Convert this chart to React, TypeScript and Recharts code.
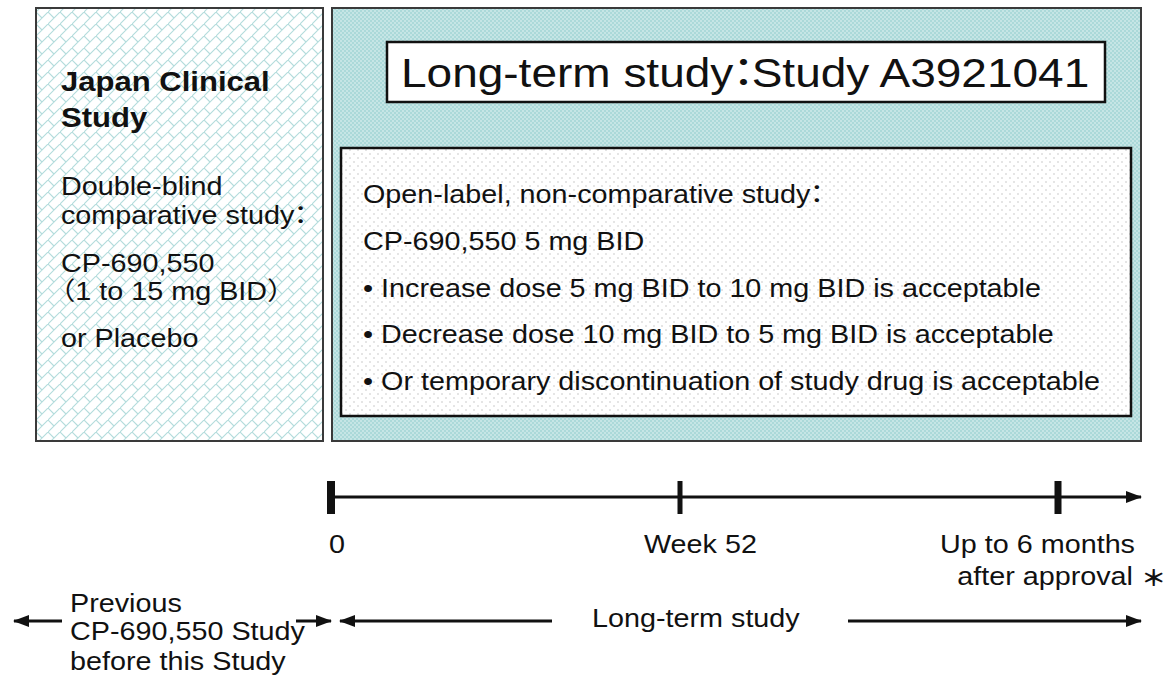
import {
  ComposedChart,
  XAxis,
  YAxis,
  Scatter,
  ReferenceArea,
  ReferenceLine,
} from "recharts";

// texts of the study design diagram
const japanTitle = ["Japan Clinical", "Study"];
const japanDesign = [
  "Double-blind",
  "comparative study：",
  "CP-690,550",
  "（1 to 15 mg BID）",
  "or Placebo",
];
const studyTitle = "Long-term study：Study A3921041";
const studyDesign = [
  "Open-label, non-comparative study：",
  "CP-690,550 5 mg BID",
  "• Increase dose 5 mg BID to 10 mg BID is acceptable",
  "• Decrease dose 10 mg BID to 5 mg BID is acceptable",
  "• Or temporary discontinuation of study drug is acceptable",
];
const milestones = ["0", "Week 52", "Up to 6 months", "after approval"];
const previousPeriod = ["Previous", "CP-690,550 Study", "before this Study"];
const longTermPeriod = "Long-term study";

// timeline positions (diagram units)
const milestoneX = [331, 680, 1058];

const W = 1169;
const H = 679;
const SX = 1.15;
const FONT = "'Liberation Sans', Arial, 'Noto Sans CJK JP', sans-serif";
const INK = "#111";

interface TextItem {
  x: number;
  y: number;
  text: string;
  size: number;
  bold?: boolean;
  anchor?: "start" | "middle" | "end";
}

const texts: TextItem[] = [
  ...japanTitle.map((t, i) => ({ x: 61, y: 91 + i * 36, text: t, size: 27, bold: true })),
  ...japanDesign.map((t, i) => ({
    x: 61,
    y: [195, 224, 272, 300, 347][i],
    text: t,
    size: 25,
  })),
  { x: 401, y: 87, text: studyTitle, size: 40 },
  ...studyDesign.map((t, i) => ({ x: 363, y: 203 + i * 46.8, text: t, size: 25 })),
  { x: 329, y: 553, text: milestones[0], size: 25 },
  { x: 644, y: 553, text: milestones[1], size: 25 },
  { x: 1135, y: 553, text: milestones[2], size: 25, anchor: "end" as const },
  { x: 1133, y: 585, text: milestones[3], size: 25, anchor: "end" as const },
  { x: 1141, y: 586, text: "＊", size: 22, bold: true },
  ...previousPeriod.map((t, i) => ({ x: 70, y: [612, 640, 670][i], text: t, size: 25 })),
  { x: 592, y: 627, text: longTermPeriod, size: 25 },
];

const ticks = milestoneX.map((x, i) => ({ x, y: 497, w: [8, 5, 7][i] }));

const segments = [
  [{ x: 330, y: 497 }, { x: 1141, y: 497 }],
  [{ x: 62, y: 621 }, { x: 14, y: 621 }],
  [{ x: 296, y: 621 }, { x: 331, y: 621 }],
  [{ x: 552, y: 621 }, { x: 340, y: 621 }],
  [{ x: 848, y: 621 }, { x: 1141, y: 621 }],
];

// full-width punctuation is drawn tighter, as in the slide
const tighten = (text: string, size: number) => {
  const parts = text.split(/([：（）])/).filter((s) => s !== "");
  return parts.map((s, i) => {
    let dx = 0;
    if (s === "：") dx = -0.28 * size;
    else if (s === "（") dx = -0.5 * size;
    else if (i > 0 && parts[i - 1] === "：") dx = -0.32 * size;
    return (
      <tspan key={i} dx={dx || undefined}>
        {s}
      </tspan>
    );
  });
};

// eslint-disable-next-line @typescript-eslint/no-explicit-any
const TextMark = (p: any) => {
  const d: TextItem = p.payload;
  return (
    <text
      transform={`translate(${p.cx},${p.cy}) scale(${SX},1)`}
      textAnchor={d.anchor || "start"}
      fontSize={d.size}
      fontWeight={d.bold ? 700 : 400}
      fontFamily={FONT}
      fill={INK}
    >
      {tighten(d.text, d.size)}
    </text>
  );
};

// eslint-disable-next-line @typescript-eslint/no-explicit-any
const TickMark = (p: any) => (
  <rect x={p.cx - p.payload.w / 2} y={p.cy - 16} width={p.payload.w} height={33} fill={INK} />
);

// eslint-disable-next-line @typescript-eslint/no-explicit-any
const ArrowLine = (p: any) => (
  <line
    x1={p.x1}
    y1={p.y1}
    x2={p.x2}
    y2={p.y2}
    stroke={INK}
    strokeWidth={3}
    markerEnd="url(#arrowhead)"
  />
);

export default function App() {
  return (
    <div style={{ position: "absolute", left: 0, top: 0, width: W, height: H, background: "#fff" }}>
      <ComposedChart width={W} height={H} margin={{ top: 0, right: 0, bottom: 0, left: 0 }}>
        <defs>
          <pattern id="hatch" width={12} height={12} patternUnits="userSpaceOnUse">
            <rect width={12} height={12} fill="#fff" />
            <path d="M-2,14 L14,-2 M0,0 L6,6" stroke="#b3dcdc" strokeWidth={1.1} fill="none" />
          </pattern>
          <pattern id="teal" width={4} height={4} patternUnits="userSpaceOnUse">
            <rect width={4} height={4} fill="#abd9d9" />
            <circle cx={1} cy={1} r={0.8} fill="#e6f5f5" />
            <circle cx={3} cy={3} r={0.8} fill="#e6f5f5" />
          </pattern>
          <pattern id="dots" width={8} height={8} patternUnits="userSpaceOnUse">
            <rect width={8} height={8} fill="#fff" />
            <circle cx={2} cy={2} r={0.8} fill="#c4c4c4" />
            <circle cx={6} cy={6} r={0.8} fill="#c4c4c4" />
          </pattern>
          <marker
            id="arrowhead"
            markerWidth={16}
            markerHeight={12}
            refX={15}
            refY={6}
            orient="auto"
            markerUnits="userSpaceOnUse"
          >
            <path d="M0,0 L16,6 L0,12 Z" fill={INK} />
          </marker>
        </defs>
        <XAxis type="number" dataKey="x" domain={[0, W]} hide allowDataOverflow />
        <YAxis type="number" dataKey="y" domain={[0, H]} reversed hide allowDataOverflow />

        {/* Study boxes */}
        <ReferenceArea x1={36} x2={323} y1={8} y2={441} fill="url(#hatch)" fillOpacity={1} stroke="#3a3a3a" strokeWidth={2} />
        <ReferenceArea x1={332} x2={1141} y1={8} y2={441} fill="url(#teal)" fillOpacity={1} stroke="#3a3a3a" strokeWidth={2} />
        <ReferenceArea x1={387} x2={1105} y1={42} y2={102} fill="#fff" fillOpacity={1} stroke={INK} strokeWidth={2.5} />
        <ReferenceArea x1={341} x2={1131} y1={148} y2={416} fill="url(#dots)" fillOpacity={1} stroke={INK} strokeWidth={2.5} />

        {/* Timeline and period arrows */}
        {segments.map((s, i) => (
          <ReferenceLine key={i} segment={s} shape={ArrowLine} />
        ))}
        <Scatter data={ticks} shape={TickMark} isAnimationActive={false} />
        <Scatter data={texts} shape={TextMark} isAnimationActive={false} />
      </ComposedChart>
    </div>
  );
}
